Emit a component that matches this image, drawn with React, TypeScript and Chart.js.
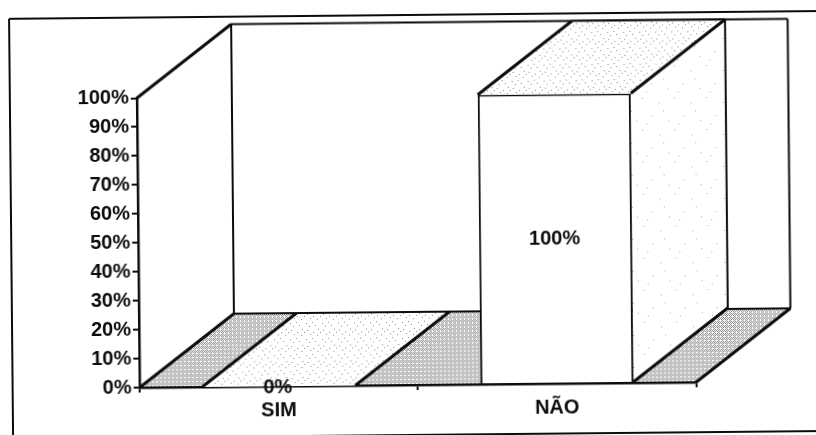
import React, { useEffect, useRef } from "react";
import { Chart, registerables } from "chart.js";

Chart.register(...registerables);

const categories = ["SIM", "NÃO"];
const percentValues = [0, 100];
const axisMin = 0;
const axisMax = 100;
const axisStep = 10;

const INK = "#0c0c0c";
const FONT = { family: "'Liberation Sans', Arial, sans-serif", size: 20, weight: "bold" as const };
const DEPTH_X = 95;
const DEPTH_Y = -73;

function tile(size: number, dots: number[][], colour: string) {
  const c = document.createElement("canvas");
  c.width = size;
  c.height = size;
  const g = c.getContext("2d")!;
  g.fillStyle = "#fff";
  g.fillRect(0, 0, size, size);
  g.fillStyle = colour;
  dots.forEach(([x, y]) => g.fillRect(x, y, 1, 1));
  return c;
}

const denseDots = [[0, 0], [2, 0], [1, 1], [3, 1], [0, 2], [2, 2], [1, 3]];
const lightDots = [[1, 2], [7, 1], [4, 5], [10, 4], [13, 8], [2, 9], [8, 11], [5, 13], [12, 14], [15, 11]];
const faintDots = [[3, 4], [20, 9], [12, 22], [29, 27], [7, 30], [24, 17]];

const poly = (ctx: CanvasRenderingContext2D, pts: number[][], fill?: any) => {
  ctx.beginPath();
  pts.forEach(([x, y], i) => (i ? ctx.lineTo(x, y) : ctx.moveTo(x, y)));
  ctx.closePath();
  if (fill) {
    ctx.fillStyle = fill;
    ctx.fill();
  }
};

const seg = (ctx: CanvasRenderingContext2D, a: number[], b: number[], w: number) => {
  ctx.beginPath();
  ctx.moveTo(a[0], a[1]);
  ctx.lineTo(b[0], b[1]);
  ctx.lineWidth = w;
  ctx.strokeStyle = INK;
  ctx.stroke();
};

const box3d = {
  id: "box3d",
  beforeDraw(chart: any) {
    const { ctx, chartArea: a } = chart;
    const dense = ctx.createPattern(tile(4, denseDots, "#888"), "repeat");
    ctx.save();
    ctx.fillStyle = "#fff";
    ctx.fillRect(0, 0, chart.width, chart.height);
    // outer frame of the figure
    seg(ctx, [11, 15], [chart.width, 15], 2);
    seg(ctx, [11, 15], [11, chart.height], 2);
    seg(ctx, [11, 435], [chart.width, 435], 2);
    // floor
    const fl = [a.left, a.bottom];
    const fr = [a.right, a.bottom];
    const bl = [a.left + DEPTH_X, a.bottom + DEPTH_Y];
    const br = [a.right + DEPTH_X, a.bottom + DEPTH_Y];
    poly(ctx, [fl, fr, br, bl], dense);
    seg(ctx, fl, bl, 3);
    seg(ctx, fr, br, 3);
    seg(ctx, bl, br, 2);
    // walls
    const tl = [a.left, a.top];
    const btl = [a.left + DEPTH_X, a.top + DEPTH_Y];
    const btr = [a.right + DEPTH_X, a.top + DEPTH_Y];
    seg(ctx, tl, btl, 3);
    seg(ctx, btl, btr, 2);
    seg(ctx, btl, bl, 2);
    seg(ctx, btr, br, 2);
    ctx.restore();
  },
  beforeDatasetsDraw(chart: any) {
    const { ctx } = chart;
    const light = ctx.createPattern(tile(16, lightDots, "#8a8a8a"), "repeat");
    const faint = ctx.createPattern(tile(32, faintDots, "#aaa"), "repeat");
    ctx.save();
    chart.getDatasetMeta(0).data.forEach((el: any) => {
      const half = el.width / 2;
      const l = el.x - half;
      const r = el.x + half;
      const t = el.y;
      const b = el.base;
      const tl = [l, t];
      const tr = [r, t];
      const btl = [l + DEPTH_X, t + DEPTH_Y];
      const btr = [r + DEPTH_X, t + DEPTH_Y];
      const br = [r, b];
      const bbr = [r + DEPTH_X, b + DEPTH_Y];
      if (b - t > 1) {
        poly(ctx, [tr, btr, bbr, br], faint);
        seg(ctx, btr, bbr, 2);
        seg(ctx, br, bbr, 3);
      }
      poly(ctx, [tl, tr, btr, btl], light);
      seg(ctx, tl, btl, 3);
      seg(ctx, tr, btr, 3);
      seg(ctx, btl, btr, 2);
    });
    ctx.restore();
  },
  afterDatasetsDraw(chart: any) {
    const { ctx } = chart;
    ctx.save();
    ctx.font = `${FONT.weight} ${FONT.size}px ${FONT.family}`;
    ctx.fillStyle = INK;
    ctx.textAlign = "center";
    ctx.textBaseline = "middle";
    chart.getDatasetMeta(0).data.forEach((el: any, i: number) => {
      ctx.fillText(`${percentValues[i]}%`, el.x - 1, (el.y + el.base) / 2 + 1);
    });
    ctx.restore();
  },
};

export default function App() {
  const ref = useRef<HTMLCanvasElement>(null);
  useEffect(() => {
    const chart = new Chart(ref.current!, {
      type: "bar",
      data: {
        labels: categories,
        datasets: [
          {
            data: percentValues,
            backgroundColor: "#fff",
            borderColor: INK,
            borderWidth: 2,
            barPercentage: 0.55,
            categoryPercentage: 1,
          },
        ],
      },
      options: {
        responsive: false,
        animation: false,
        layout: { autoPadding: false, padding: { left: 0, top: 95.5, right: 145.5, bottom: 0 } },
        plugins: { legend: { display: false }, tooltip: { enabled: false } },
        scales: {
          x: {
            afterFit: (s: any) => {
              s.height = 75;
            },
            border: { color: INK, width: 2.5 },
            grid: { drawOnChartArea: false, drawTicks: true, tickLength: 5, color: INK, lineWidth: 2 },
            ticks: { color: INK, font: FONT, padding: 7, maxRotation: 0 },
          },
          y: {
            min: axisMin,
            max: axisMax,
            afterFit: (s: any) => {
              s.width = 138;
            },
            border: { color: INK, width: 2.5 },
            grid: { drawOnChartArea: false, drawTicks: true, tickLength: 6, color: INK, lineWidth: 2 },
            ticks: {
              stepSize: axisStep,
              color: INK,
              font: FONT,
              padding: 2,
              callback: (v: any) => `${v}%`,
            },
          },
        },
      },
      plugins: [box3d],
    } as any);
    return () => chart.destroy();
  }, []);

  return (
    <div style={{ position: "absolute", left: 0, top: 0, width: 816, height: 435, overflow: "hidden", background: "#fff" }}>
      <canvas
        ref={ref}
        width={840}
        height={460}
        style={{
          display: "block",
          transform: "rotate(-0.55deg)",
          transformOrigin: "408px 217.5px",
          filter: "blur(0.35px)",
        }}
      />
    </div>
  );
}
